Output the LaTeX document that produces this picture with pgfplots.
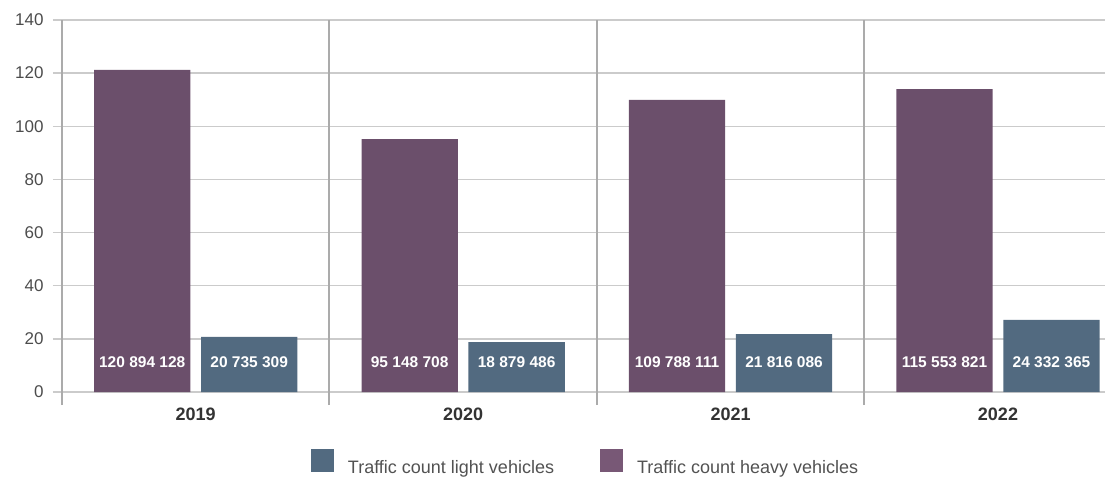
\documentclass[border=0pt]{standalone}
\usepackage{fontspec}
\setmainfont{Liberation Sans}
\usepackage{pgfplots}
\pgfplotsset{compat=1.18}
\definecolor{heavy}{HTML}{6B4F6B}
\definecolor{heavyleg}{HTML}{785876}
\definecolor{light}{HTML}{526A80}
\definecolor{gridc}{HTML}{CBCBCB}
\definecolor{sepc}{HTML}{ABABAB}
\begin{document}
\begin{tikzpicture}
\begin{axis}[
  at={(62pt,87pt)}, anchor=south west,
  scale only axis, width=1043pt, height=372pt,
  xmin=-0.5, xmax=3.4, ymin=0, ymax=140,
  ytick={0,20,...,140},
  ymajorgrids, major grid style={gridc, line width=1.5pt},
  axis line style={draw=none},
  tick align=outside,
  xtick pos=lower, ytick pos=left,
  major tick length=9pt,
  ytick style={draw=gridc, line width=1.5pt},
  xtick={0,1,2,3}, xticklabels={2019,2020,2021,2022},
  xtick style={draw=none},
  extra x ticks={-0.5,0.5,1.5,2.5}, extra x tick labels={},
  extra x tick style={grid=major, major grid style={sepc, line width=2pt},
     major tick length=13pt, xtick style={draw=sepc, line width=2pt}},
  /pgf/number format/assume math mode=true,
  yticklabel style={font=\fontsize{17}{17}\selectfont, text=black!70, xshift=-6pt},
  xticklabel style={font=\fontsize{18}{18}\selectfont\bfseries, text=black!80, yshift=-3pt},
  legend image code/.code={\fill[#1] (0pt,-4pt) rectangle (23pt,19pt);},
  legend style={at={(0.2387,-0.2236)}, anchor=south west, draw=none, fill=none,
     inner sep=0pt, outer sep=0pt, nodes={inner sep=0pt, text=black!68},
     font=\fontsize{18}{18}\selectfont,
     /tikz/every odd column/.append style={column sep=14pt},
     /tikz/every even column/.append style={column sep=46pt}},
  legend columns=2,
]
\addplot[ybar, bar width=0.36, bar shift=0pt, fill=heavy, draw=none, forget plot]
  coordinates {(-0.2,121.2) (0.8,95.2) (1.8,109.9) (2.8,114.0)};
\addplot[ybar, bar width=0.36, bar shift=0pt, fill=light, draw=none, forget plot]
  coordinates {(0.2,20.7) (1.2,18.8) (2.2,21.8) (3.2,27.1)};
\addplot[draw=none, mark=none, forget plot, nodes near coords, point meta=explicit symbolic,
  every node near coord/.style={anchor=center, text=white, font=\fontsize{15.5}{15.5}\selectfont\bfseries}]
  coordinates {(-0.2,11.1) [120 894 128] (0.8,11.1) [95 148 708] (1.8,11.1) [109 788 111] (2.8,11.1) [115 553 821]
               (0.2,11.1) [20 735 309] (1.2,11.1) [18 879 486] (2.2,11.1) [21 816 086] (3.2,11.1) [24 332 365]};
\addlegendimage{fill=light, draw=none}
\addlegendentry{Traffic count light vehicles}
\addlegendimage{fill=heavyleg, draw=none}
\addlegendentry{Traffic count heavy vehicles}
\end{axis}
\pgfresetboundingbox
\path[use as bounding box] (0,0) rectangle (1105pt,479pt);
\end{tikzpicture}
\end{document}
